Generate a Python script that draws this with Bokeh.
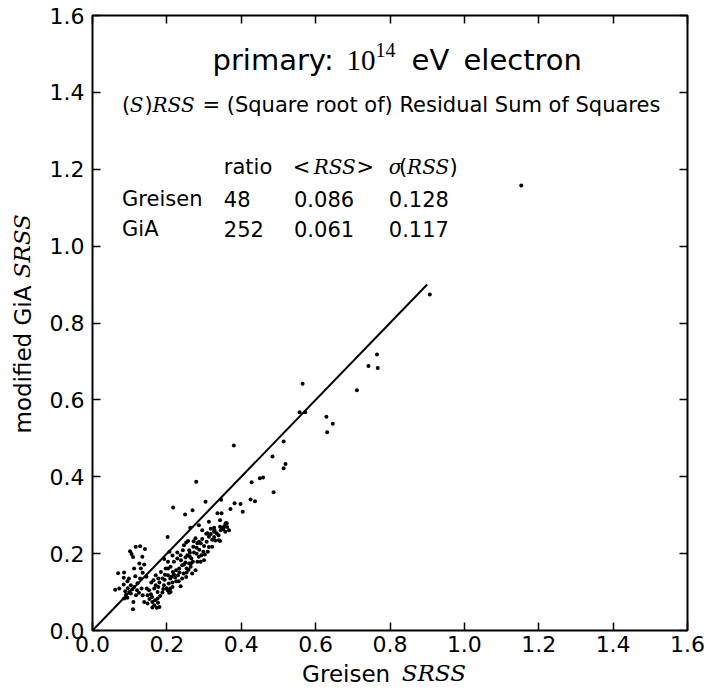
import math
from bokeh.plotting import figure
from bokeh.models import Label, LinearAxis, FixedTicker, Range1d, PrintfTickFormatter, ColumnDataSource
from bokeh.embed import file_html
from bokeh.resources import INLINE

# ---------------- data ----------------
greisen_srss = [
    1.153, 0.907, 0.765, 0.742, 0.767, 0.711, 0.565, 0.557, 0.572, 0.629,
    0.646, 0.631, 0.514, 0.484, 0.519, 0.514, 0.487, 0.450, 0.459, 0.428,
    0.425, 0.437, 0.380, 0.382, 0.398, 0.404, 0.371, 0.279, 0.217, 0.249,
    0.269, 0.304, 0.346, 0.336, 0.347, 0.343, 0.358, 0.263, 0.202, 0.343,
    0.349, 0.355, 0.362, 0.367, 0.345, 0.357, 0.352, 0.361, 0.309, 0.318,
    0.327, 0.295, 0.291, 0.307, 0.322, 0.300, 0.313, 0.287, 0.273, 0.280,
    0.302, 0.313, 0.330, 0.340, 0.300, 0.291, 0.343, 0.252, 0.286, 0.327,
    0.306, 0.257, 0.246, 0.243, 0.228, 0.237, 0.255, 0.262, 0.266, 0.270,
    0.264, 0.277, 0.250, 0.253, 0.241, 0.233, 0.228, 0.219, 0.210, 0.203,
    0.216, 0.230, 0.241, 0.252, 0.225, 0.212, 0.237, 0.203, 0.209, 0.205,
    0.209, 0.210, 0.203, 0.193, 0.197, 0.184, 0.188, 0.194, 0.199, 0.246,
    0.260, 0.225, 0.219, 0.234, 0.253, 0.268, 0.282, 0.286, 0.293, 0.271,
    0.260, 0.282, 0.277, 0.322, 0.328, 0.334, 0.339, 0.327, 0.318, 0.313,
    0.286, 0.295, 0.101, 0.105, 0.109, 0.116, 0.128, 0.141, 0.134, 0.126,
    0.112, 0.130, 0.139, 0.085, 0.069, 0.084, 0.084, 0.094, 0.115, 0.103,
    0.112, 0.107, 0.099, 0.090, 0.085, 0.072, 0.061, 0.117, 0.110, 0.109,
    0.121, 0.132, 0.135, 0.128, 0.146, 0.152, 0.157, 0.160, 0.139, 0.148,
    0.161, 0.168, 0.175, 0.182, 0.188, 0.175, 0.166, 0.177, 0.164, 0.161,
    0.173, 0.180, 0.094, 0.103, 0.148, 0.170, 0.177, 0.192, 0.202, 0.206,
    0.215, 0.215, 0.222, 0.232, 0.245, 0.258, 0.265, 0.238, 0.215, 0.207,
    0.180, 0.170, 0.158, 0.145, 0.135, 0.120, 0.125, 0.095, 0.088, 0.098,
    0.153, 0.166, 0.176, 0.190, 0.195, 0.280, 0.298, 0.310, 0.262, 0.250,
    0.272,
]
gia_srss = [
    1.158, 0.874, 0.718, 0.688, 0.683, 0.625, 0.642, 0.568, 0.568, 0.556,
    0.538, 0.516, 0.492, 0.453, 0.433, 0.422, 0.360, 0.396, 0.398, 0.386,
    0.341, 0.336, 0.481, 0.331, 0.329, 0.309, 0.316, 0.387, 0.320, 0.302,
    0.313, 0.335, 0.340, 0.305, 0.305, 0.287, 0.279, 0.267, 0.243, 0.270,
    0.267, 0.272, 0.269, 0.261, 0.261, 0.257, 0.264, 0.279, 0.253, 0.251,
    0.243, 0.238, 0.227, 0.231, 0.218, 0.220, 0.217, 0.210, 0.203, 0.200,
    0.198, 0.244, 0.234, 0.235, 0.183, 0.179, 0.233, 0.229, 0.231, 0.257,
    0.252, 0.233, 0.222, 0.209, 0.203, 0.196, 0.196, 0.192, 0.187, 0.179,
    0.166, 0.157, 0.177, 0.161, 0.170, 0.161, 0.187, 0.179, 0.166, 0.161,
    0.152, 0.144, 0.135, 0.139, 0.128, 0.140, 0.115, 0.144, 0.135, 0.122,
    0.109, 0.100, 0.179, 0.186, 0.161, 0.152, 0.135, 0.132, 0.110, 0.172,
    0.174, 0.157, 0.146, 0.151, 0.151, 0.148, 0.179, 0.192, 0.196, 0.218,
    0.209, 0.227, 0.240, 0.236, 0.261, 0.253, 0.248, 0.267, 0.265, 0.283,
    0.274, 0.261, 0.206, 0.199, 0.191, 0.218, 0.219, 0.212, 0.192, 0.174,
    0.161, 0.161, 0.172, 0.151, 0.149, 0.137, 0.120, 0.128, 0.141, 0.118,
    0.113, 0.107, 0.100, 0.093, 0.083, 0.109, 0.106, 0.092, 0.074, 0.055,
    0.123, 0.109, 0.092, 0.135, 0.109, 0.105, 0.094, 0.087, 0.074, 0.070,
    0.074, 0.079, 0.083, 0.090, 0.099, 0.100, 0.109, 0.113, 0.131, 0.060,
    0.059, 0.061, 0.085, 0.096, 0.092, 0.144, 0.135, 0.118, 0.105, 0.098,
    0.113, 0.125, 0.138, 0.128, 0.148, 0.158, 0.175, 0.183, 0.195, 0.205,
    0.125, 0.118, 0.125, 0.140, 0.150, 0.105, 0.098, 0.110, 0.102, 0.135,
    0.082, 0.066, 0.072, 0.108, 0.145, 0.215, 0.205, 0.205, 0.202, 0.190,
    0.232,
]

diag_x = [0.0, 0.9]
diag_y = [0.0, 0.9]

tick_values = [0.0, 0.2, 0.4, 0.6, 0.8, 1.0, 1.2, 1.4, 1.6]

methods = ["Greisen", "GiA"]
ratio = ["48", "252"]
mean_rss = ["0.086", "0.061"]
sigma_rss = ["0.128", "0.117"]

x_label_words = ["Greisen", "SRSS"]
y_label_words = ["modified GiA", "SRSS"]

# ---------------- figure ----------------
SANS = "DejaVu Sans"
MATH_IT = "DejaVu Serif"
MATH_RM = "Liberation Serif"
NB = "\u00a0"

p = figure(width=714, height=695, x_range=Range1d(0, 1.6), y_range=Range1d(0, 1.6),
           output_backend="svg", toolbar_location=None,
           min_border_left=92, min_border_right=27, min_border_top=15, min_border_bottom=65)
p.background_fill_color = "white"
p.border_fill_color = "white"
p.outline_line_color = "black"
p.outline_line_width = 2
p.outline_line_alpha = 1
p.xgrid.visible = False
p.ygrid.visible = False

ticker = FixedTicker(ticks=tick_values)
for ax in (p.xaxis[0], p.yaxis[0]):
    ax.ticker = ticker
    ax.formatter = PrintfTickFormatter(format="%.1f")
    ax.axis_line_color = None
    ax.major_tick_in = 8
    ax.major_tick_out = 0
    ax.major_tick_line_color = "black"
    ax.major_tick_line_width = 1.5
    ax.minor_tick_line_color = None
    ax.major_label_text_font = SANS
    ax.major_label_text_font_size = "22px"
    ax.major_label_text_color = "black"
    ax.axis_label_text_font = SANS
    ax.axis_label_text_font_size = "23px"
    ax.axis_label_text_font_style = "normal"
    ax.axis_label_text_color = "black"
p.xaxis[0].major_label_standoff = 5
p.yaxis[0].major_label_standoff = 8
# sans part of each axis title (padded so that it sits left of centre)
p.xaxis[0].axis_label = x_label_words[0] + NB * 12
p.xaxis[0].axis_label_standoff = 6
p.yaxis[0].axis_label = y_label_words[0] + NB * 10
p.yaxis[0].axis_label_standoff = 11

# top / right tick marks (no labels)
for side in ("right", "above"):
    ax = LinearAxis(ticker=FixedTicker(ticks=tick_values), axis_line_color=None,
                    major_tick_in=8, major_tick_out=0, major_tick_line_color="black",
                    major_tick_line_width=1.5, minor_tick_line_color=None,
                    major_label_text_font_size="1px", major_label_text_color=None,
                    major_label_standoff=0)
    p.add_layout(ax, side)

# italic math part of each axis title, on an extra tickless axis pulled onto the same line
for side, text, sd in (("below", NB * 12 + x_label_words[1], -30),
                       ("left", NB * 21 + y_label_words[1], -28)):
    ax = LinearAxis(ticker=FixedTicker(ticks=[]), axis_line_color=None,
                    major_tick_line_color=None, minor_tick_line_color=None,
                    major_label_text_font_size="1px", major_label_text_color=None,
                    major_label_standoff=0, axis_label=text,
                    axis_label_text_font=MATH_IT, axis_label_text_font_style="italic",
                    axis_label_text_font_size="23px", axis_label_text_color="black",
                    axis_label_standoff=sd)
    p.add_layout(ax, side)

# data
p.line(diag_x, diag_y, line_color="black", line_width=2)
src = ColumnDataSource(dict(x=greisen_srss, y=gia_srss))
p.scatter("x", "y", source=src, size=4, fill_color="black", line_color=None)


def lab(x, y, text, font=SANS, size="21px", style="normal"):
    p.add_layout(Label(x=x, y=y, text=text, text_font=font, text_font_size=size,
                       text_font_style=style, text_baseline="alphabetic",
                       text_align="left", text_color="black"))

# title line
lab(0.3227, 1.483, "primary:", size="29px")
lab(0.683, 1.483, "10", font=MATH_RM, size="29px")
lab(0.761, 1.5115, "14", font=MATH_RM, size="20px")
lab(0.858, 1.483, "eV", size="29px")
lab(0.9976, 1.483, "electron", size="29px")

# (S)RSS definition
lab(0.0796, 1.366, "(")
lab(0.100, 1.366, "S", font=MATH_IT, style="italic", size="20px")
lab(0.1398, 1.366, ")")
lab(0.1613, 1.366, "RSS", font=MATH_IT, style="italic", size="20px")
lab(0.2958, 1.366, "= (Square root of) Residual Sum of Squares")

# table header
hy = 1.2054
lab(0.3531, hy, "ratio")
lab(0.5386, hy, "<")
lab(0.5948, hy, "RSS", font=MATH_IT, style="italic", size="20px")
lab(0.7100, hy, ">")
lab(0.7968, hy, "σ", font=MATH_IT, style="italic", size="20px")
lab(0.8245, hy, "(")
lab(0.8460, hy, "RSS", font=MATH_IT, style="italic", size="20px")
lab(0.9600, hy, ")")

row_y = [1.1231, 1.0451]
for i in range(len(methods)):
    lab(0.0796, row_y[i], methods[i])
    lab(0.3531, row_y[i], ratio[i])
    lab(0.5418, row_y[i], mean_rss[i])
    lab(0.7968, row_y[i], sigma_rss[i])

open("out.html", "w").write(file_html(p, INLINE))
